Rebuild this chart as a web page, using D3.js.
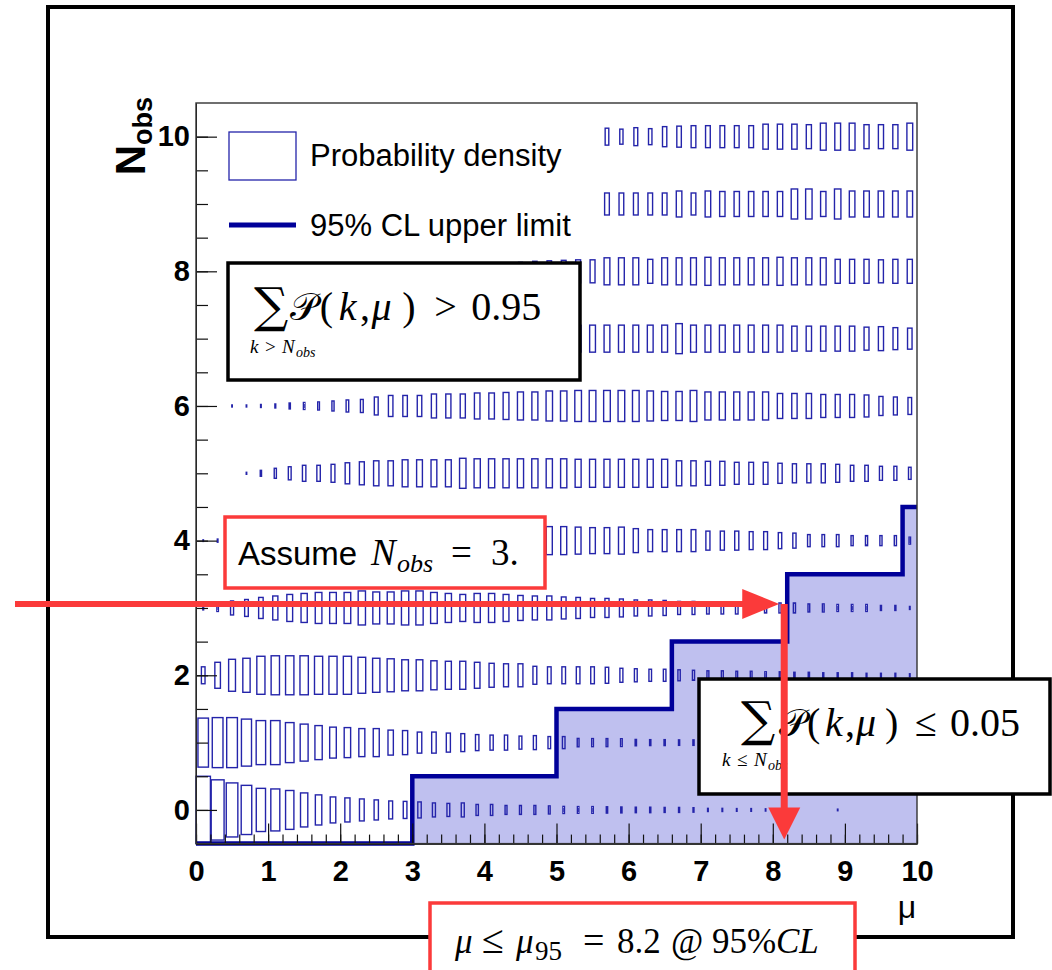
<!DOCTYPE html>
<html>
<head>
<meta charset="utf-8">
<script src="https://cdn.jsdelivr.net/npm/d3@7"></script>
<style>
  body { margin: 0; background: #fff; }
  svg { display: block; }
</style>
</head>
<body>
<svg id="chart" width="1052" height="970"></svg>
<script>
// ---- data -------------------------------------------------------------
// centres of the 50 mu bins (width 0.2 on [0, 10])
const muCenters = [0.1,0.3,0.5,0.7,0.9,1.1,1.3,1.5,1.7,1.9,
                   2.1,2.3,2.5,2.7,2.9,3.1,3.3,3.5,3.7,3.9,
                   4.1,4.3,4.5,4.7,4.9,5.1,5.3,5.5,5.7,5.9,
                   6.1,6.3,6.5,6.7,6.9,7.1,7.3,7.5,7.7,7.9,
                   8.1,8.3,8.5,8.7,8.9,9.1,9.3,9.5,9.7,9.9];
const nObsValues = [0,1,2,3,4,5,6,7,8,9,10];

// probability density P(k, mu), one array per observed count k
const probN0 = [0.90,0.72,0.58,0.48,0.37,0.35,0.30,0.23,0.18,0.134,
                0.115,0.096,0.080,0.064,0.058,0.051,0.039,0.034,0.039,0.024,
                0.024,0.016,0.016,0.016,0.013,0.010,0.009,0.009,0.008,0.007,
                0.006,0.006,0.005,0.005,0.004,0.002,0.002,0.0015,0.0015,0.001,
                0.001,0.001,0,0,0.0005,0,0,0,0,0];
const probN1 = [0.477,0.497,0.497,0.439,0.385,0.385,0.318,0.272,0.23,0.19,
                0.179,0.156,0.156,0.124,0.115,0.088,0.088,0.072,0.064,0.051,
                0.045,0.045,0.034,0.039,0.029,0.029,0.014,0.013,0.013,0.012,
                0.008,0.007,0.007,0.006,0.006,0.005,0.005,0.004,0.004,0.003,
                0.003,0.003,0.002,0.002,0.002,0.002,0.001,0.001,0.001,0.001];
const probN2 = [0.057,0.134,0.203,0.23,0.287,0.302,0.302,0.302,0.287,0.287,
                0.287,0.257,0.23,0.216,0.191,0.191,0.167,0.156,0.156,0.134,
                0.114,0.105,0.105,0.064,0.057,0.057,0.057,0.057,0.051,0.039,
                0.034,0.029,0.029,0.024,0.020,0.016,0.016,0.013,0.013,0.0097,
                0.0097,0.0072,0.0072,0.005,0.005,0.005,0.0032,0.0032,0.0032,0.0018];
const probN3 = [0.003,0.0097,0.039,0.057,0.088,0.114,0.145,0.167,0.191,0.191,
                0.191,0.23,0.203,0.203,0.23,0.23,0.191,0.167,0.145,0.167,
                0.167,0.145,0.124,0.114,0.114,0.096,0.088,0.072,0.072,0.064,
                0.051,0.051,0.045,0.034,0.034,0.029,0.029,0.029,0.02,0.02,
                0.02,0.02,0.013,0.013,0.0097,0.0097,0.0097,0.005,0.005,0.0018];
const probN4 = [0.0005,0.002,0.005,0.01,0.02,0.03,0.045,0.06,0.075,0.09,
                0.10,0.115,0.125,0.135,0.145,0.155,0.16,0.165,0.17,0.17,
                0.17,0.165,0.16,0.16,0.156,0.156,0.145,0.134,0.134,0.145,
                0.114,0.096,0.096,0.096,0.096,0.072,0.072,0.072,0.064,0.064,
                0.051,0.045,0.029,0.029,0.029,0.02,0.02,0.02,0.02,0.0097];
const probN5 = [0,0,0,0.0008,0.007,0.02,0.034,0.051,0.051,0.064,
                0.088,0.105,0.124,0.124,0.145,0.145,0.145,0.145,0.179,0.167,
                0.167,0.167,0.167,0.167,0.167,0.167,0.156,0.156,0.156,0.156,
                0.156,0.156,0.156,0.124,0.124,0.114,0.114,0.096,0.096,0.096,
                0.08,0.072,0.072,0.072,0.064,0.051,0.051,0.039,0.039,0.029];
const probN6 = [0,0,0.0008,0.0008,0.0018,0.0032,0.007,0.0097,0.013,0.02,
                0.029,0.034,0.064,0.088,0.088,0.088,0.114,0.114,0.114,0.134,
                0.134,0.145,0.156,0.156,0.179,0.179,0.191,0.191,0.191,0.191,
                0.191,0.179,0.167,0.167,0.191,0.156,0.156,0.156,0.156,0.156,
                0.124,0.124,0.124,0.105,0.105,0.105,0.096,0.072,0.064,0.057];
const probN7 = [0,0,0.0001,0.0003,0.0008,0.0015,0.003,0.005,0.008,0.012,
                0.017,0.023,0.03,0.038,0.047,0.056,0.066,0.076,0.086,0.096,
                0.105,0.113,0.12,0.127,0.133,0.138,0.142,0.145,0.145,0.145,
                0.145,0.145,0.145,0.179,0.145,0.145,0.145,0.145,0.145,0.145,
                0.145,0.124,0.124,0.124,0.124,0.124,0.105,0.114,0.096,0.088];
const probN8 = [0,0,0,0,0,0.0002,0.0004,0.0008,0.0014,0.0022,
                0.0035,0.005,0.007,0.01,0.014,0.019,0.025,0.032,0.04,0.048,
                0.055,0.057,0.064,0.08,0.088,0.096,0.105,0.105,0.145,0.145,
                0.145,0.114,0.145,0.145,0.145,0.156,0.145,0.145,0.145,0.145,
                0.156,0.145,0.145,0.145,0.114,0.114,0.114,0.105,0.114,0.114];
const probN9 = [0,0,0,0,0,0,0,0,0,0,
                0,0,0,0,0,0,0,0,0,0,
                0,0,0,0,0,0,0,0,0.096,0.096,
                0.096,0.096,0.096,0.134,0.096,0.134,0.124,0.124,0.124,0.124,
                0.124,0.179,0.179,0.124,0.179,0.134,0.134,0.134,0.134,0.134];
const probN10 = [0,0,0,0,0,0,0,0,0,0,
                 0,0,0,0,0,0,0,0,0,0,
                 0,0,0,0,0,0,0,0,0.057,0.045,
                 0.064,0.051,0.08,0.088,0.096,0.096,0.096,0.096,0.096,0.124,
                 0.124,0.124,0.114,0.145,0.145,0.145,0.114,0.114,0.114,0.145];

// 95% CL upper limit on mu as a step function of N_obs
const limitEdges  = [0, 3, 5, 6.6, 8.2, 9.8, 10];
const limitLevels = [-0.5, 0.5, 1.5, 2.5, 3.5, 4.5, 4.5];

const xMajorTicks = [0,1,2,3,4,5,6,7,8,9,10];
const yMajorTicks = [0,2,4,6,8,10];

const assumedNObs = 3;
const mu95 = 8.2;

// ---- layout -----------------------------------------------------------
const W = 1052, H = 970;
const plot = { left: 196, top: 103, right: 917, bottom: 843.6 };
const sansFont = "'Liberation Sans', Arial, Helvetica, sans-serif";
const serifFont = "'Liberation Serif', 'DejaVu Serif', 'Times New Roman', serif";
const mathFont = "'DejaVu Serif', 'Liberation Serif', serif";
const red = "#fb3a3a";
const navy = "#000099";
const boxBlue = "#2424aa";

const x = d3.scaleLinear().domain([0, 10]).range([plot.left, plot.right]);
const y = d3.scaleLinear().domain([-0.5, 10.5]).range([plot.bottom, plot.top]);

const svg = d3.select("#chart");
svg.append("rect").attr("width", W).attr("height", H).attr("fill", "#fff");

// outer canvas frame
svg.append("rect")
  .attr("x", 48).attr("y", 7).attr("width", 965).attr("height", 930)
  .attr("fill", "none").attr("stroke", "#000").attr("stroke-width", 4);

// ---- shaded excluded region under the upper-limit step ----------------
const limitPts = limitEdges.map((e, i) => ({ mu: e, n: limitLevels[i] }));
svg.append("path")
  .datum(limitPts)
  .attr("d", d3.area()
    .x(d => x(d.mu)).y0(y(-0.5)).y1(d => y(d.n))
    .curve(d3.curveStepAfter))
  .attr("fill", "#bfc0ef");

// ---- probability boxes (box side ~ sqrt of content) -------------------
const rows = [probN0, probN1, probN2, probN3, probN4, probN5,
              probN6, probN7, probN8, probN9, probN10];
const vmax = d3.max(rows, r => d3.max(r));
const binW = x(0.2) - x(0);
const binH = y(0) - y(1);

const cells = [];
rows.forEach((r, k) => r.forEach((v, i) => {
  if (v > 0) cells.push({ k: nObsValues[k], mu: muCenters[i], v });
}));

svg.append("g")
  .selectAll("rect")
  .data(cells)
  .join("rect")
  .each(function (d) {
    const f = Math.sqrt(d.v / vmax);
    d.w = Math.max(binW * f, 0.5);
    d.h = Math.max(binH * f, 0.8);
  })
  .attr("x", d => x(d.mu) - d.w / 2)
  .attr("y", d => y(d.k) - d.h / 2)
  .attr("width", d => d.w)
  .attr("height", d => d.h)
  .attr("fill", "none")
  .attr("stroke", boxBlue)
  .attr("stroke-width", 1.4);

// ---- upper-limit step line --------------------------------------------
svg.append("path")
  .datum(limitPts)
  .attr("d", d3.line().x(d => x(d.mu)).y(d => y(d.n)).curve(d3.curveStepAfter))
  .attr("fill", "none")
  .attr("stroke", navy)
  .attr("stroke-width", 4.5);

// ---- axes -------------------------------------------------------------
function styleAxis(g) {
  g.attr("font-family", sansFont).attr("font-size", 29).attr("font-weight", "bold");
  g.selectAll("line").attr("stroke", "#111").attr("stroke-width", 1.2);
  g.select(".domain").attr("stroke", "#111");
  g.selectAll("text").attr("fill", "#000");
}

// x minor ticks every 0.2, majors every 1
svg.append("g")
  .attr("transform", `translate(0,${plot.bottom})`)
  .call(d3.axisBottom(x).tickValues(d3.range(0, 10.001, 0.2)).tickSizeInner(-9).tickSizeOuter(0).tickFormat(""))
  .call(styleAxis);
svg.append("g")
  .attr("transform", `translate(0,${plot.bottom})`)
  .call(d3.axisBottom(x).tickValues(xMajorTicks).tickSizeInner(-20).tickSizeOuter(0).tickPadding(17).tickFormat(d3.format("d")))
  .call(styleAxis);

// y minor ticks every 0.5, majors every 2
svg.append("g")
  .attr("transform", `translate(${plot.left},0)`)
  .call(d3.axisLeft(y).tickValues(d3.range(0, 10.001, 0.5)).tickSizeInner(-12).tickSizeOuter(0).tickFormat(""))
  .call(styleAxis);
svg.append("g")
  .attr("transform", `translate(${plot.left},0)`)
  .call(d3.axisLeft(y).tickValues(yMajorTicks).tickSizeInner(-21).tickSizeOuter(0).tickPadding(6).tickFormat(d3.format("d")))
  .call(styleAxis);

// plot frame
svg.append("rect")
  .attr("x", plot.left).attr("y", plot.top)
  .attr("width", plot.right - plot.left).attr("height", plot.bottom - plot.top)
  .attr("fill", "none").attr("stroke", "#333").attr("stroke-width", 1.4);

// axis titles
svg.append("text")
  .attr("x", 907).attr("y", 918)
  .attr("text-anchor", "middle")
  .attr("font-family", sansFont).attr("font-size", 32)
  .text("μ");

const yTitle = svg.append("text")
  .attr("transform", "translate(145,97) rotate(-90)")
  .attr("text-anchor", "end")
  .attr("font-family", sansFont).attr("font-weight", "bold");
yTitle.append("tspan").attr("font-size", 42).text("N");
yTitle.append("tspan").attr("font-size", 27).attr("dy", 7).text("obs");

// ---- legend -----------------------------------------------------------
const legend = svg.append("g").attr("font-family", sansFont).attr("font-size", 31);
legend.append("rect")
  .attr("x", 229).attr("y", 132).attr("width", 67).attr("height", 48)
  .attr("fill", "none").attr("stroke", boxBlue).attr("stroke-width", 1.3);
legend.append("text").attr("x", 310).attr("y", 166).text("Probability density");
legend.append("line")
  .attr("x1", 229).attr("x2", 296).attr("y1", 225).attr("y2", 225)
  .attr("stroke", navy).attr("stroke-width", 5);
legend.append("text").attr("x", 310).attr("y", 236).text("95% CL upper limit");

// ---- annotation boxes -------------------------------------------------
function noteBox(x0, y0, w, h, stroke) {
  svg.append("rect")
    .attr("x", x0).attr("y", y0).attr("width", w).attr("height", h)
    .attr("fill", "#fff").attr("stroke", stroke).attr("stroke-width", 3.5);
}
// each part: text, x position, optional italic / size / baseline offset / font
function mathText(y0, size, parts) {
  const t = svg.append("text").attr("y", y0)
    .attr("font-family", serifFont).attr("font-size", size);
  parts.forEach(p => {
    const s = t.append("tspan").attr("x", p.x).attr("y", y0 + (p.sub || 0)).text(p.t);
    if (p.i) s.attr("font-style", "italic");
    if (p.f) s.attr("font-family", p.f);
    if (p.s) s.attr("font-size", p.s);
  });
  return t;
}
function probExpr(x0, y0, relation, value, stretch) {
  const o = v => x0 + v * stretch;
  mathText(y0, 40, [
    { t: "𝒫", x: x0, f: mathFont, s: 38 },
    { t: "(", x: o(28) },
    { t: "k", x: o(46), i: true },
    { t: ",", x: o(66) },
    { t: "μ", x: o(77), i: true },
    { t: ")", x: o(106) },
    { t: relation, x: o(136) },
    { t: value, x: o(171) }
  ]);
}
function sumIndex(x0, y0, relation) {
  mathText(y0, 19, [
    { t: "k", x: x0, i: true },
    { t: relation, x: x0 + 15 },
    { t: "N", x: x0 + 32, i: true },
    { t: "obs", x: x0 + 46, i: true, s: 14, sub: 4 }
  ]);
}

// sum over k > N_obs
noteBox(228, 263, 352, 117, "#000");
svg.append("text").attr("x", 254).attr("y", 322)
  .attr("font-family", mathFont).attr("font-size", 48).text("∑");
sumIndex(250, 353, ">");
probExpr(290, 320, ">", "0.95", 1.06);

// assumed observation
noteBox(225, 517, 320, 71, red);
svg.append("text").attr("x", 238).attr("y", 565)
  .attr("font-family", sansFont).attr("font-size", 33).text("Assume");
mathText(565, 37, [
  { t: "N", x: 371, i: true },
  { t: "obs", x: 397, i: true, s: 26, sub: 7 },
  { t: "=", x: 451 },
  { t: "3.", x: 491 }
]);

// red arrows: N_obs = 3 across to the limit, then down to the mu axis
const arrowY = y(assumedNObs) - 4;
const arrowX = x(mu95) - 3;
svg.append("line")
  .attr("x1", 15).attr("x2", arrowX - 38).attr("y1", arrowY).attr("y2", arrowY)
  .attr("stroke", red).attr("stroke-width", 6);
svg.append("path")
  .attr("d", `M${arrowX - 42},${arrowY - 15}L${arrowX - 5},${arrowY}L${arrowX - 42},${arrowY + 15}Z`)
  .attr("fill", red);

// sum over k <= N_obs (drawn before the vertical arrow, which crosses it)
noteBox(699, 679, 351, 115, "#000");
svg.append("text").attr("x", 741).attr("y", 736)
  .attr("font-family", mathFont).attr("font-size", 48).text("∑");
sumIndex(722, 766, "≤");
probExpr(779, 736, "≤", "0.05", 1);

svg.append("line")
  .attr("x1", arrowX).attr("x2", arrowX).attr("y1", arrowY).attr("y2", y(-0.5) - 34)
  .attr("stroke", red).attr("stroke-width", 7);
svg.append("path")
  .attr("d", `M${arrowX - 16},${y(-0.5) - 36}L${arrowX + 16},${y(-0.5) - 36}L${arrowX},${y(-0.5) - 4}Z`)
  .attr("fill", red);

// resulting limit
noteBox(430, 903, 425, 80, red);
mathText(953, 35, [
  { t: "μ", x: 455, i: true },
  { t: "≤", x: 482, s: 40 },
  { t: "μ", x: 516, i: true },
  { t: "95", x: 535, s: 27, sub: 7 },
  { t: "=", x: 583, s: 38 },
  { t: "8.2", x: 617 },
  { t: "@", x: 671 },
  { t: "95%", x: 712 },
  { t: "CL", x: 776, i: true }
]);
</script>
</body>
</html>
